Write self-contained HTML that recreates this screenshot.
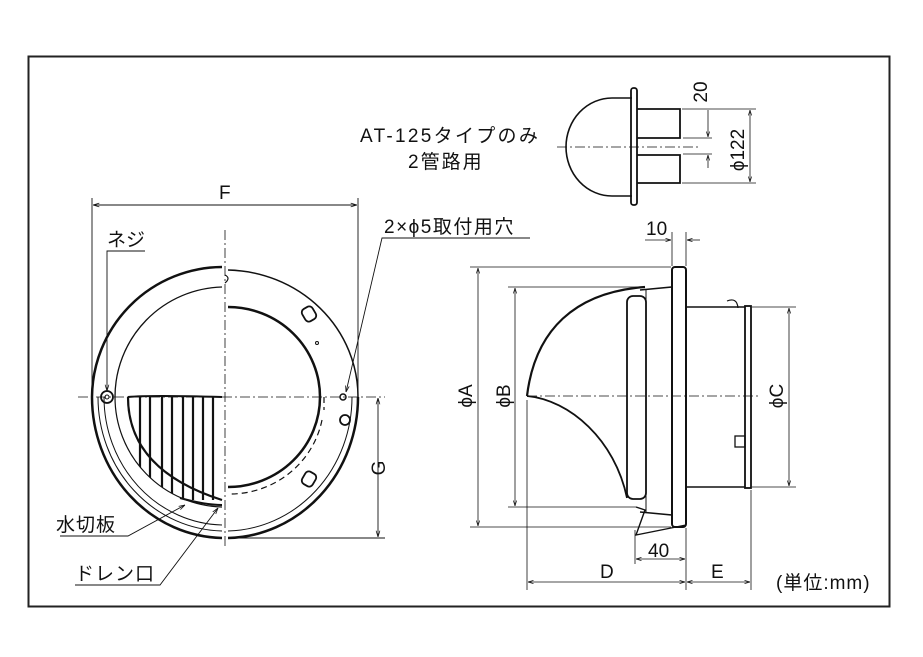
<!DOCTYPE html>
<html><head><meta charset="utf-8"><style>
html,body{margin:0;padding:0;background:#fff}
svg{display:block}
text{font-family:"Liberation Sans","Noto Sans CJK JP",sans-serif;fill:#111}
</style></head><body>
<svg width="923" height="657" viewBox="0 0 923 657" xmlns="http://www.w3.org/2000/svg">
<defs>
<marker id="a" viewBox="0 0 10 10" refX="10" refY="5" markerWidth="7" markerHeight="7" orient="auto-start-reverse"><path d="M0,2 L10,5 L0,8" fill="none" stroke="#111" stroke-width="1.2"/></marker>
<clipPath id="lc"><path d="M115,397 A110,110 0 0 0 225,507 L225,397 Z"/></clipPath>
</defs>
<rect x="28.5" y="56.5" width="861" height="550" fill="none" stroke="#222" stroke-width="2"/>

<g fill="none" stroke="#111">
<line x1="225" y1="230" x2="225" y2="548" stroke-dasharray="10,3,2,3" stroke-width="0.8"/>
<line x1="78" y1="397" x2="385" y2="397" stroke-dasharray="10,3,2,3" stroke-width="0.8"/>
<path d="M222,267 A131,131 0 0 0 92,397" stroke-width="2.5"/>
<path d="M222,287 A110,110 0 0 0 115,397" stroke-width="1.3"/>
<path d="M92,397 A133,141 0 0 0 222,538" stroke-width="2.5"/>
<path d="M98,397 A127,134 0 0 0 222,531" stroke-width="1"/>
<path d="M104,397 A121,128 0 0 0 222,525" stroke-width="1"/>
<path d="M115,397 A110,110 0 0 0 222,507" stroke-width="1.2"/>
<g clip-path="url(#lc)" stroke-width="2.2">
<path d="M128,397 Q128,470 222,500"/>
<line x1="140" y1="397" x2="140" y2="500"/><line x1="150" y1="397" x2="150" y2="500"/>
<line x1="162" y1="397" x2="162" y2="500"/><line x1="172" y1="397" x2="172" y2="500"/>
<line x1="183" y1="397" x2="183" y2="500"/><line x1="193" y1="397" x2="193" y2="500"/>
<line x1="203" y1="397" x2="203" y2="500"/><line x1="213" y1="397" x2="213" y2="500"/>
</g>
<path d="M128,397 Q150,395 222,397" stroke-width="2"/>
<path d="M180,498 Q205,505 222,505" stroke-width="2"/>
<circle cx="107" cy="397" r="6" stroke-width="1.8"/><circle cx="107" cy="397" r="2" stroke-width="1"/>
<path d="M228,270 A133,127 0 0 1 358,397" stroke-width="1.5"/>
<path d="M358,397 A133,141 0 0 1 228,538" stroke-width="2.5"/>
<path d="M352,397 A127,134 0 0 1 228,531" stroke-width="1"/>
<path d="M228,307 A92,90 0 0 1 228,487" stroke-width="2.5"/>
<path d="M324,397 L324,410 M322,420 A94,92 0 0 1 228,494" stroke-width="1.2" stroke-dasharray="6,4"/>
<path d="M225,275 q6,3 0,8" stroke-width="1.2"/>
<rect x="303" y="307" width="12" height="14" rx="4" transform="rotate(-30 309 314)" stroke-width="1.8"/>
<rect x="303" y="472" width="12" height="14" rx="4" transform="rotate(30 309 479)" stroke-width="1.8"/>
<circle cx="317" cy="343" r="1.5"/>
<circle cx="343" cy="397" r="3" stroke-width="1.5"/>
<circle cx="345" cy="420" r="5" stroke-width="1.8"/>
<line x1="92" y1="198" x2="92" y2="390" stroke-width="0.9"/>
<line x1="358" y1="198" x2="358" y2="390" stroke-width="0.9"/>
<line x1="93" y1="205" x2="357" y2="205" stroke-width="0.9" marker-start="url(#a)" marker-end="url(#a)"/>
<line x1="228" y1="538" x2="385" y2="538" stroke-width="0.9"/>
<line x1="378" y1="398" x2="378" y2="537" stroke-width="0.9" marker-start="url(#a)" marker-end="url(#a)"/>
<polyline points="145,251 107,251 107,391" stroke-width="0.9" marker-end="url(#a)"/>
<polyline points="530,238 382,238 346,392" stroke-width="0.9" marker-end="url(#a)"/>
<polyline points="60,536 128,536 185,505" stroke-width="0.9" marker-end="url(#a)"/>
<polyline points="75,585 160,585 218,508" stroke-width="0.9" marker-end="url(#a)"/>

<line x1="557" y1="147" x2="700" y2="147" stroke-dasharray="10,3,2,3" stroke-width="0.8"/>
<path d="M632,98 L612,98 A46,49 0 0 0 612,196 L632,196" stroke-width="1.6"/>
<rect x="631" y="88" width="6" height="117" rx="2.5" stroke-width="1.8"/>
<polyline points="637,109 680,109 680,138 637,138" stroke-width="1.8"/>
<polyline points="637,155 680,155 680,183 637,183" stroke-width="1.8"/>
<line x1="682" y1="109" x2="756" y2="109" stroke-width="0.8"/>
<line x1="682" y1="183" x2="756" y2="183" stroke-width="0.8"/>
<line x1="683" y1="138" x2="712" y2="138" stroke-width="0.8"/>
<line x1="683" y1="154" x2="712" y2="154" stroke-width="0.8"/>
<line x1="708" y1="110" x2="708" y2="137" stroke-width="0.8" marker-end="url(#a)"/>
<line x1="708" y1="168" x2="708" y2="155" stroke-width="0.8" marker-end="url(#a)"/>
<line x1="750" y1="110" x2="750" y2="182" stroke-width="0.8" marker-start="url(#a)" marker-end="url(#a)"/>

<line x1="527" y1="396" x2="760" y2="396" stroke-dasharray="10,3,2,3" stroke-width="0.8"/>
<path d="M527,396 C535,330 575,292 645,287" stroke-width="2.2"/>
<path d="M527,396 C570,400 615,440 627,498" stroke-width="1.8"/>
<rect x="627" y="296" width="19" height="203" rx="6" stroke-width="1.8"/>
<path d="M640,290 L672,287 L672,515 L640,512" stroke-width="1.6"/>
<line x1="646" y1="290" x2="646" y2="512" stroke-width="1"/>
<rect x="672" y="267" width="14" height="260" rx="3" stroke-width="2"/>
<path d="M686,307 L745,307 M686,487 L745,487" stroke-width="1.6"/>
<rect x="745" y="306" width="6" height="182" stroke-width="1.8"/>
<path d="M727,301 q10,-4 11,7" stroke-width="1.2"/>
<rect x="735" y="436" width="10" height="11" stroke-width="1.3"/>
<path d="M636,507 L645,510 L636,535 L686,525" stroke-width="1.4"/>
<line x1="470" y1="267" x2="671" y2="267" stroke-width="0.8"/>
<line x1="470" y1="527" x2="671" y2="527" stroke-width="0.8"/>
<line x1="478" y1="268" x2="478" y2="526" stroke-width="0.8" marker-start="url(#a)" marker-end="url(#a)"/>
<line x1="508" y1="287" x2="640" y2="287" stroke-width="0.8"/>
<line x1="508" y1="507" x2="636" y2="507" stroke-width="0.8"/>
<line x1="515" y1="288" x2="515" y2="506" stroke-width="0.8" marker-start="url(#a)" marker-end="url(#a)"/>
<line x1="752" y1="307" x2="796" y2="307" stroke-width="0.8"/>
<line x1="752" y1="487" x2="796" y2="487" stroke-width="0.8"/>
<line x1="789" y1="308" x2="789" y2="486" stroke-width="0.8" marker-start="url(#a)" marker-end="url(#a)"/>
<line x1="527" y1="400" x2="527" y2="590" stroke-width="0.8"/>
<line x1="686" y1="528" x2="686" y2="590" stroke-width="0.8"/>
<line x1="751" y1="490" x2="751" y2="590" stroke-width="0.8"/>
<line x1="635" y1="530" x2="635" y2="564" stroke-width="0.8"/>
<line x1="528" y1="582" x2="685" y2="582" stroke-width="0.8" marker-start="url(#a)" marker-end="url(#a)"/>
<line x1="687" y1="582" x2="750" y2="582" stroke-width="0.8" marker-start="url(#a)" marker-end="url(#a)"/>
<line x1="636" y1="559" x2="685" y2="559" stroke-width="0.8" marker-start="url(#a)" marker-end="url(#a)"/>
<line x1="672" y1="232" x2="672" y2="266" stroke-width="0.8"/>
<line x1="686" y1="232" x2="686" y2="266" stroke-width="0.8"/>
<line x1="645" y1="240" x2="671" y2="240" stroke-width="0.8" marker-end="url(#a)"/>
<line x1="700" y1="240" x2="687" y2="240" stroke-width="0.8" marker-end="url(#a)"/>
</g>

<g font-size="19">
<text x="219" y="199">F</text>
<text x="107" y="246">ネジ</text>
<text x="384" y="233" letter-spacing="1.5">2×ϕ5取付用穴</text>
<text x="56" y="531" letter-spacing="1">水切板</text>
<text x="75" y="580" letter-spacing="1">ドレン口</text>
<text transform="translate(385,468) rotate(-90)" text-anchor="middle">G</text>
<text x="360" y="142" letter-spacing="2.3">AT-125タイプのみ</text>
<text x="408" y="168" letter-spacing="2">2管路用</text>
<text x="646" y="235">10</text>
<text x="648" y="557">40</text>
<text x="600" y="578">D</text>
<text x="711" y="578">E</text>
<text x="776" y="589" letter-spacing="1">(単位:mm)</text>
<text transform="translate(472,396) rotate(-90)" text-anchor="middle">ϕA</text>
<text transform="translate(510,396) rotate(-90)" text-anchor="middle">ϕB</text>
<text transform="translate(783,396) rotate(-90)" text-anchor="middle">ϕC</text>
<text transform="translate(707,92) rotate(-90)" text-anchor="middle">20</text>
<text transform="translate(744,150) rotate(-90)" text-anchor="middle">ϕ122</text>
</g>
</svg>
</body></html>
